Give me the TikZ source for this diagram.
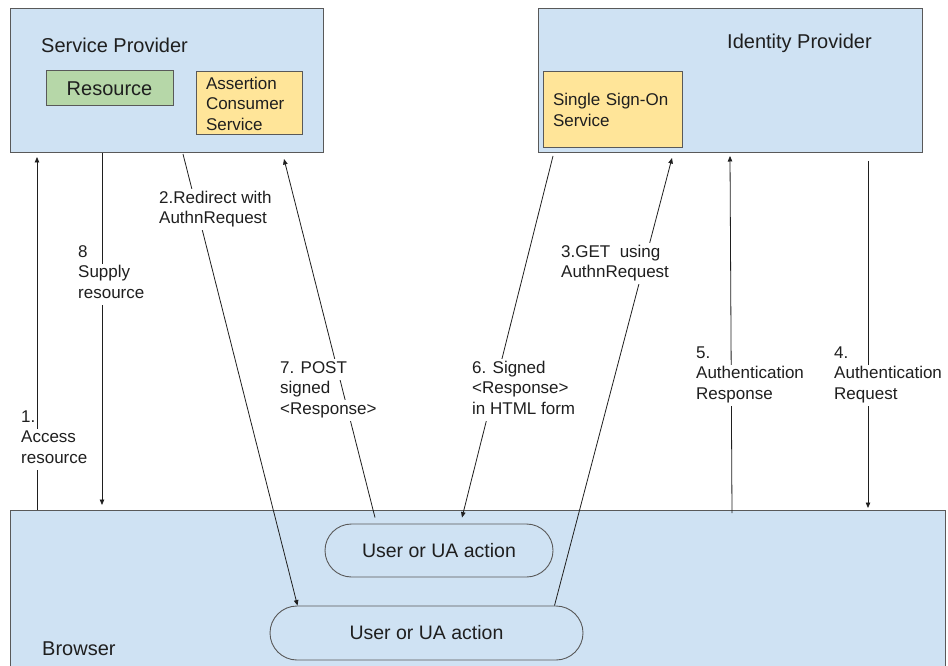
\documentclass[tikz,border=0pt]{standalone}
\usepackage{fontspec}
\setmainfont{Liberation Sans}
\usetikzlibrary{shapes.misc,arrows.meta,calc}
\definecolor{pane}{HTML}{CFE2F3}
\definecolor{resgreen}{HTML}{B6D7A8}
\definecolor{svcyellow}{HTML}{FFE599}
\definecolor{edgegray}{HTML}{595959}
\definecolor{ink}{HTML}{1F1F1F}
\begin{document}
\begin{tikzpicture}[x=1pt,y=-1pt,
  panel/.style={draw=edgegray,line width=1pt,fill=pane,anchor=north west,inner sep=0pt},
  inbox/.style={draw=edgegray,line width=1pt,inner sep=0pt,text=ink},
  title/.style={anchor=base west,inner sep=0pt,text=ink,font=\fontsize{20}{24}\selectfont},
  stadium/.style={draw=edgegray,line width=0.9pt,rounded rectangle,inner sep=0pt,text=ink,font=\fontsize{19.5}{23}\selectfont},
  lab/.style={anchor=base west,inner xsep=1pt,inner ysep=0pt,text height=14pt,text depth=6.5pt,text=ink,font=\fontsize{17}{20.5}\selectfont},
  labw/.style={lab,fill=white},
  conn/.style={draw=ink,line width=0.8pt,-{Triangle[length=5.5pt,width=4.5pt]}}]
\useasboundingbox (0,0) rectangle (948,666);
\clip (0,0) rectangle (948,666);
% panels
\node[panel,minimum width=313pt,minimum height=144pt] (sp) at (10,8) {};
\node[panel,minimum width=384pt,minimum height=144pt] (idp) at (538,8) {};
\node[panel,minimum width=935pt,minimum height=170pt] (br) at (10,510) {};
\node[title] (spt) at (41,53) {Service Provider};
\node[title] (idpt) at (727,49) {Identity Provider};
\node[title] (brt) at (42,655) {Browser};
% inner boxes
\node[inbox,fill=resgreen,minimum width=127pt,minimum height=35pt,font=\fontsize{20}{24}\selectfont] (res) at (109.5,88.5) {Resource};
\node[inbox,fill=svcyellow,text width=86pt,inner xsep=10pt,minimum height=63pt,align=left,font=\fontsize{17}{20.5}\selectfont] (acs) at (249,103.5) {Assertion\\Consumer\\Service};
\node[inbox,fill=svcyellow,text width=119pt,inner xsep=10pt,minimum height=76pt,align=left,font=\fontsize{17}{20.5}\selectfont] (sso) at (612.5,110) {Single Sign-On\\Service};
% user actions
\node[stadium,minimum width=228pt,minimum height=53pt] (ua1) at (439,550.5) {User or UA action};
\node[stadium,minimum width=313pt,minimum height=54pt] (ua2) at (426.5,633) {User or UA action};
% connectors
\draw[conn] ($(br.north west)+(27,0)$) -- ($(sp.south west)+(27,4)$);
\draw[conn] ($(sp.south west)+(92,0)$) -- ($(br.north west)+(92,-5)$);
\draw[conn] ($(sp.south west)+(173,1)$) -- ($(ua2.north)+(-129,0)$);
\draw[conn] ($(ua1.north)+(-64,-6)$) -- ($(sp.south west)+(274,6)$);
\draw[conn] ($(idp.south west)+(15,3)$) -- ($(ua1.north)+(23,-6)$);
\draw[conn] ($(ua2.north)+(128,0)$) -- ($(idp.south west)+(134,5)$);
\draw[conn] ($(br.north west)+(722,3)$) -- ($(idp.south west)+(192,3)$);
\draw[conn] ($(idp.south west)+(330,8)$) -- ($(br.north west)+(858,-2)$);
% labels
\node[lab] (l1a) at (20,422) {1.};
\node[labw] (l1b) at (20,442.5) {Access};
\node[labw] (l1c) at (20,463) {resource};
\node[lab] (l8a) at (77,257) {8};
\node[labw] (l8b) at (77,277.5) {Supply};
\node[labw] (l8c) at (77,298) {resource};
\node[labw] (l2a) at (158,203) {2.Redirect with};
\node[labw] (l2b) at (158,223.5) {AuthnRequest};
\node[labw] (l7a) at (279,373) {7. POST};
\node[labw] (l7b) at (279,393.5) {signed};
\node[labw] (l7c) at (279,414) {<Response>};
\node[labw] (l6a) at (471,373) {6. Signed};
\node[labw] (l6b) at (471,393.5) {<Response>};
\node[labw] (l6c) at (471,414) {in HTML form};
\node[labw] (l3a) at (560,257) {3.GET\ \ using};
\node[labw] (l3b) at (560,277.5) {AuthnRequest};
\node[lab] (l5a) at (695,358) {5.};
\node[labw] (l5b) at (695,378.5) {Authentication};
\node[labw] (l5c) at (695,399) {Response};
\node[lab] (l4a) at (833,358) {4.};
\node[labw] (l4b) at (833,378.5) {Authentication};
\node[labw] (l4c) at (833,399) {Request};
\end{tikzpicture}
\end{document}
